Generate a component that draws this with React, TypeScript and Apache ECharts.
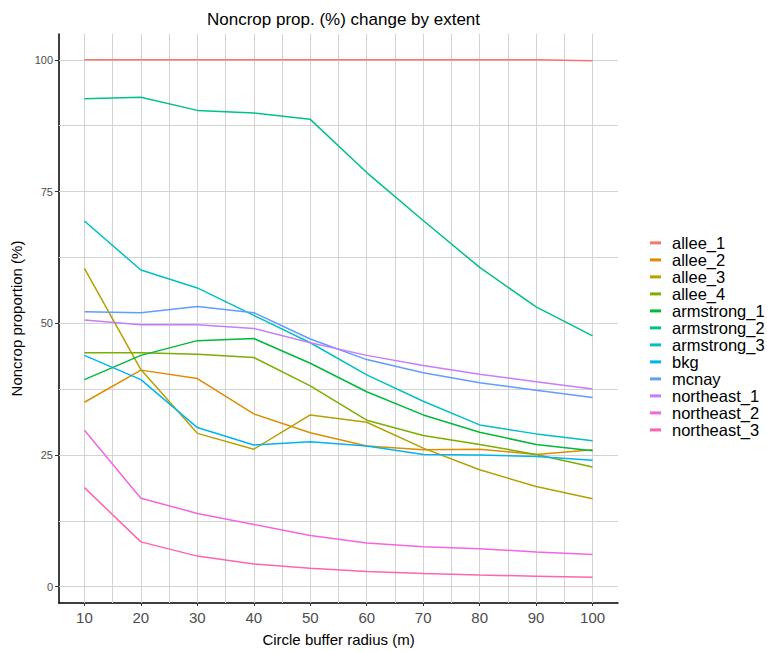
import React, { useEffect, useRef } from "react";
import * as echarts from "echarts";

const radii = [10, 20, 30, 40, 50, 60, 70, 80, 90, 100];
const seriesNames = [
  "allee_1", "allee_2", "allee_3", "allee_4", "armstrong_1", "armstrong_2",
  "armstrong_3", "bkg", "mcnay", "northeast_1", "northeast_2", "northeast_3",
];
const colors = [
  "#F8766D", "#DE8C00", "#B79F00", "#7CAE00", "#00BA38", "#00C08B",
  "#00BFC4", "#00B4F0", "#619CFF", "#C77CFF", "#F564E3", "#FF64B0",
];
const allee_1 = [100, 100, 100, 100, 100, 100, 100, 100, 100, 99.8];
const allee_2 = [35.0, 41.1, 39.5, 32.8, 29.2, 26.7, 26.0, 26.1, 25.1, 26.0];
const allee_3 = [60.4, 41.2, 29.1, 26.1, 32.6, 31.2, 26.3, 22.2, 19.0, 16.7];
const allee_4 = [44.4, 44.4, 44.1, 43.5, 38.1, 31.6, 28.7, 27.0, 25.1, 22.7];
const armstrong_1 = [39.3, 43.9, 46.7, 47.1, 42.4, 37.0, 32.6, 29.3, 27.0, 25.8];
const armstrong_2 = [92.6, 92.9, 90.4, 89.9, 88.7, 78.6, 69.5, 60.6, 53.1, 47.6];
const armstrong_3 = [69.4, 60.1, 56.7, 51.5, 46.3, 40.2, 35.2, 30.7, 29.0, 27.7];
const bkg = [43.9, 39.3, 30.2, 26.9, 27.5, 26.7, 25.1, 25.0, 24.7, 24.0];
const mcnay = [52.2, 52.0, 53.2, 52.0, 47.0, 43.1, 40.6, 38.7, 37.3, 35.9];
const northeast_1 = [50.6, 49.7, 49.7, 49.0, 46.3, 43.9, 42.0, 40.3, 38.9, 37.5];
const northeast_2 = [29.7, 16.8, 13.9, 11.8, 9.7, 8.3, 7.6, 7.2, 6.6, 6.1];
const northeast_3 = [18.8, 8.5, 5.8, 4.3, 3.5, 2.9, 2.5, 2.2, 2.0, 1.8];
const seriesValues = [
  allee_1, allee_2, allee_3, allee_4, armstrong_1, armstrong_2,
  armstrong_3, bkg, mcnay, northeast_1, northeast_2, northeast_3,
];
const xTicks = [10, 20, 30, 40, 50, 60, 70, 80, 90, 100];
const xGrid = [10, 15, 20, 25, 30, 35, 40, 45, 50, 55, 60, 65, 70, 75, 80, 85, 90, 95, 100];
const yTicks = [0, 25, 50, 75, 100];
const yGrid = [0, 12.5, 25, 37.5, 50, 62.5, 75, 87.5, 100];

const FONT = "'Liberation Sans', Arial, Helvetica, sans-serif";

export default function App() {
  const ref = useRef<HTMLDivElement>(null);
  useEffect(() => {
    document.body.style.margin = "0";
    const chart = echarts.init(ref.current!, null, { renderer: "svg" });
    const gridLine = { color: "#d3d3d3", width: 1, type: "solid" as const };
    const lineSeries = seriesNames.map((name, i) => ({
      name,
      type: "line" as const,
      data: radii.map((r, j) => [r, seriesValues[i][j]]),
      symbol: "none",
      lineStyle: { color: colors[i], width: 1.5 },
      itemStyle: { color: colors[i] },
      z: 10,
      silent: true,
    }));
    chart.setOption({
      animation: false,
      textStyle: { fontFamily: FONT },
      title: {
        text: "Noncrop prop. (%) change by extent",
        left: 338.5,
        top: 6,
        textAlign: "center",
        textStyle: { fontSize: 17, fontWeight: "normal", color: "#000", fontFamily: FONT },
      },
      grid: { left: 59, right: 149, top: 34, bottom: 46.5, containLabel: false },
      legend: {
        orient: "vertical",
        left: 650,
        top: 234.4,
        padding: 0,
        data: seriesNames,
        icon: "rect",
        itemWidth: 11,
        itemHeight: 3,
        itemGap: 0,
        selectedMode: false,
        textStyle: { fontSize: 16.5, lineHeight: 15.25, color: "#000", fontFamily: FONT, padding: [0, 0, 0, 6] },
      },
      xAxis: {
        type: "value",
        min: 5.5,
        max: 104.5,
        name: "Circle buffer radius (m)",
        nameLocation: "middle",
        nameGap: 29,
        nameTextStyle: { fontSize: 15, color: "#000", fontFamily: FONT },
        axisLine: { show: true, onZero: false, lineStyle: { color: "#000", width: 1.5 } },
        axisTick: { show: true, length: 3, customValues: xTicks, lineStyle: { color: "#333" } },
        axisLabel: { customValues: xTicks, fontSize: 15, color: "#4d4d4d", margin: 7, fontFamily: FONT },
        splitLine: { show: false },
      },
      yAxis: {
        type: "value",
        min: -3.1,
        max: 104.9,
        name: "Noncrop proportion (%)",
        nameLocation: "middle",
        nameGap: 33,
        nameTextStyle: { fontSize: 15, color: "#000", fontFamily: FONT },
        axisLine: { show: true, onZero: false, lineStyle: { color: "#000", width: 1.5 } },
        axisTick: { show: true, length: 4, customValues: yTicks, lineStyle: { color: "#333" } },
        axisLabel: { customValues: yTicks, fontSize: 11, color: "#4d4d4d", margin: 6, fontFamily: FONT },
        splitLine: { show: false },
      },
      series: [
        {
          name: "__grid",
          type: "line",
          data: [],
          symbol: "none",
          silent: true,
          z: 1,
          markLine: {
            silent: true,
            z: 1,
            symbol: ["none", "none"],
            label: { show: false },
            lineStyle: gridLine,
            emphasis: { disabled: true },
            data: [
              ...yGrid.map((v) => ({ yAxis: v })),
              ...xGrid.map((v) => ({ xAxis: v })),
            ],
          },
        },
        ...lineSeries,
      ],
    });
    return () => chart.dispose();
  }, []);
  return <div ref={ref} style={{ width: 767, height: 652 }} />;
}
